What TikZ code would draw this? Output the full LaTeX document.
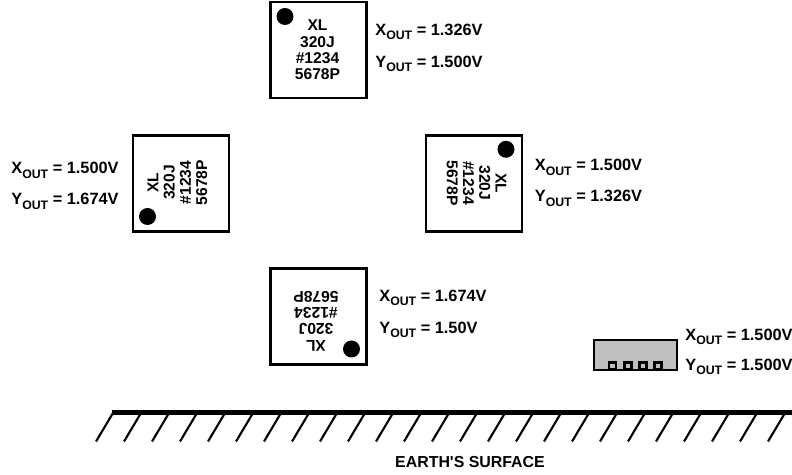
\documentclass[tikz,border=0pt]{standalone}
\usepackage{fontspec}
\setmainfont{Liberation Sans}
\newfontfamily\earthfont{Liberation Sans}
\newcommand{\outlabel}[2]{#1\raisebox{-0.28em}{\fontsize{7}{7}\selectfont OUT} = #2}
\begin{document}
\begin{tikzpicture}[x=0.02cm, y=-0.02cm,
  chip/.style={draw=black, line width=1.6pt, minimum size=1.92cm, inner sep=0pt},
  marking/.style={align=center, font=\fontsize{8.9}{9.25}\selectfont\bfseries},
  dot/.style={circle, fill=black, minimum size=0.34cm, inner sep=0pt},
  reading/.style={anchor=west, inner sep=0pt, font=\fontsize{9.3}{10}\selectfont\bfseries},
  pin/.style={draw=black, line width=1.4pt, minimum size=0.14cm, inner sep=0pt}]
  \useasboundingbox (0, 0) rectangle (792, 475);

  % top package
  \node[chip] (top) at (318.5, 50) {};
  \node[marking] (topm) at (317.5, 50) {XL\\320J\\\#1234\\5678P};
  \node[dot] (topd) at (285, 16.5) {};
  \node[reading] (topx) at (375, 32) {\outlabel{X}{1.326V}};
  \node[reading] (topy) at (375, 64) {\outlabel{Y}{1.500V}};

  % left package
  \node[chip] (left) at (181, 183.3) {};
  \node[marking, rotate=90] (leftm) at (177.5, 182.5) {XL\\320J\\\#1234\\5678P};
  \node[dot] (leftd) at (147.5, 216.5) {};
  \node[reading] (leftx) at (11, 170.5) {\outlabel{X}{1.500V}};
  \node[reading] (lefty) at (11, 201.5) {\outlabel{Y}{1.674V}};

  % right package
  \node[chip] (right) at (474, 183.3) {};
  \node[marking, rotate=-90] (rightm) at (476.5, 183) {XL\\320J\\\#1234\\5678P};
  \node[dot] (rightd) at (506, 149.3) {};
  \node[reading] (rightx) at (534.5, 167.5) {\outlabel{X}{1.500V}};
  \node[reading] (righty) at (534.5, 198.5) {\outlabel{Y}{1.326V}};

  % bottom package
  \node[chip] (bot) at (318.7, 316.5) {};
  \node[marking, rotate=180] (botm) at (316, 321) {XL\\320J\\\#1234\\5678P};
  \node[dot] (botd) at (351.5, 349) {};
  \node[reading] (botx) at (379, 298) {\outlabel{X}{1.674V}};
  \node[reading] (boty) at (379, 330) {\outlabel{Y}{1.50V}};

  % flat package
  \node[draw=black, fill=black!25, line width=1.1pt, minimum width=1.66cm, minimum height=0.6cm, inner sep=0pt] (flat) at (635.5, 355) {};
  \foreach \i/\xx in {1/612.7, 2/628.2, 3/643.2, 4/657.8}
    \node[pin] (pin\i) at (\xx, 366) {};
  \node[reading] (flatx) at (685, 337) {\outlabel{X}{1.500V}};
  \node[reading] (flaty) at (685, 367) {\outlabel{Y}{1.500V}};

  % ground
  \coordinate (gl) at (112, 412.5);
  \coordinate (gr) at (792, 412.5);
  \draw[line width=2.8pt] (gl) -- (gr);
  \foreach \xx in {0, 1, ..., 24}
    \draw[line width=1.2pt] (113 + 28*\xx, 413) -- (96 + 28*\xx, 441.5);
  \node[inner sep=0pt, font=\earthfont\fontsize{9.05}{10}\selectfont\bfseries] (earth) at (470, 462) {EARTH'S SURFACE};
\end{tikzpicture}
\end{document}
